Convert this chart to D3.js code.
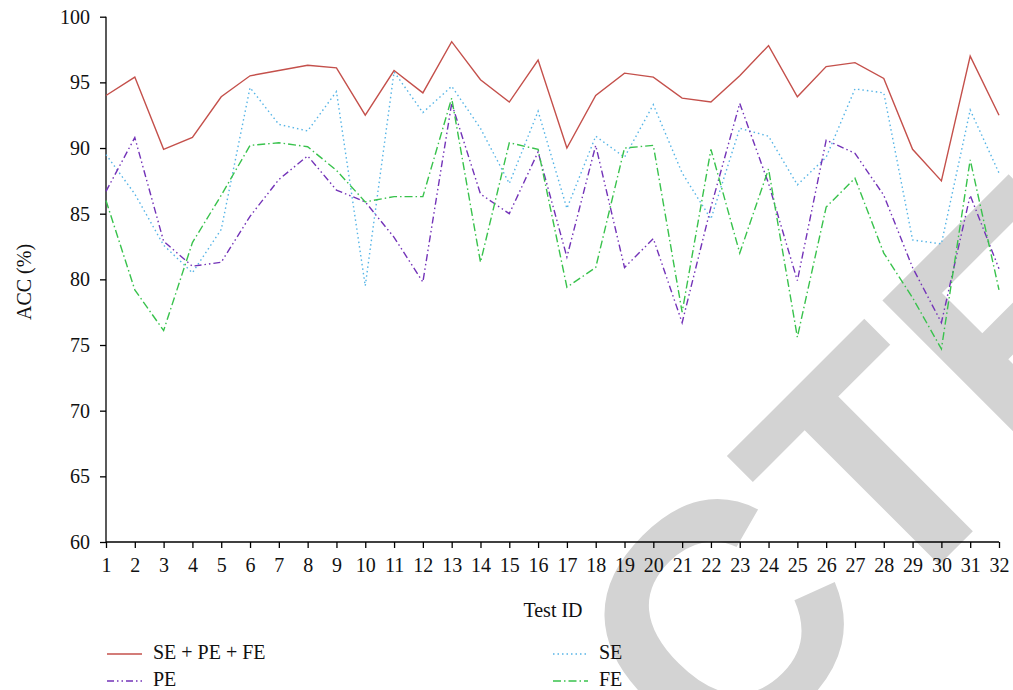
<!DOCTYPE html>
<html>
<head>
<meta charset="utf-8">
<script src="https://cdn.jsdelivr.net/npm/d3@7"></script>
<style>
  html, body { margin: 0; padding: 0; background: #fff; }
  svg { display: block; }
</style>
</head>
<body>
<svg id="chart" width="1013" height="690"></svg>
<script>
const testIds = d3.range(1, 33);
const yTicks = [60, 65, 70, 75, 80, 85, 90, 95, 100];
const seriesNames = ["SE + PE + FE", "SE", "PE", "FE"];
const accAll = [94.0, 95.4, 89.9, 90.8, 93.9, 95.5, 95.9, 96.3, 96.1, 92.5, 95.9, 94.2, 98.1, 95.2, 93.5, 96.7, 90.0, 94.0, 95.7, 95.4, 93.8, 93.5, 95.5, 97.8, 93.9, 96.2, 96.5, 95.3, 89.9, 87.5, 97.0, 92.5];
const accSE = [89.5, 86.5, 82.6, 80.5, 83.8, 94.6, 91.8, 91.3, 94.3, 79.5, 95.8, 92.7, 94.7, 91.5, 87.3, 92.8, 85.4, 90.9, 89.3, 93.3, 88.1, 84.6, 91.5, 90.9, 87.2, 89.3, 94.5, 94.2, 83.0, 82.7, 92.9, 88.1];
const accPE = [86.7, 90.8, 82.9, 81.0, 81.3, 84.8, 87.6, 89.4, 86.8, 85.9, 83.2, 79.8, 93.4, 86.5, 85.0, 89.7, 81.7, 90.2, 80.9, 83.1, 76.7, 85.5, 93.4, 87.3, 79.9, 90.6, 89.6, 86.4, 80.9, 76.7, 86.4, 80.8];
const accFE = [86.0, 79.2, 76.1, 82.8, 86.4, 90.2, 90.4, 90.1, 88.3, 85.9, 86.3, 86.3, 93.8, 81.3, 90.4, 89.9, 79.4, 80.9, 90.0, 90.2, 77.5, 89.9, 82.0, 88.4, 75.6, 85.5, 87.7, 82.0, 78.6, 74.7, 89.1, 79.2];

const styles = [
  { color: "#c4504b", dash: null },
  { color: "#55b4e6", dash: "1.5,3" },
  { color: "#7333b8", dash: "7,3,1.5,3,1.5,3" },
  { color: "#38c24c", dash: "8,3,1.5,3" }
];
const allSeries = [accAll, accSE, accPE, accFE];

const svg = d3.select("#chart");
const serif = "'Liberation Serif', 'Times New Roman', serif";

svg.append("rect").attr("width", 1013).attr("height", 690).attr("fill", "#fff");

// Watermark
svg.append("text")
  .attr("transform", "translate(632,872) rotate(-45)")
  .attr("text-anchor", "middle")
  .attr("font-family", "'Liberation Sans', Arial, sans-serif")
  .attr("font-weight", "bold")
  .attr("font-size", 330)
  .attr("fill", "#d3d3d3")
  .text("RETRACTED");

const x = d3.scaleLinear().domain([1, 32]).range([106, 999]);
const y = d3.scaleLinear().domain([60, 100]).range([542, 16.7]);

// Axes
const gx = svg.append("g").attr("transform", "translate(0,542)")
  .call(d3.axisBottom(x).tickValues(testIds).tickFormat(d3.format("d")).tickSize(6).tickPadding(10));
const gy = svg.append("g").attr("transform", "translate(106,0)")
  .call(d3.axisLeft(y).tickValues(yTicks).tickSize(6).tickPadding(10));
[gx, gy].forEach(g => {
  g.select(".domain").attr("stroke", "#000").attr("stroke-width", 1.3);
  g.selectAll(".tick line").attr("stroke", "#000").attr("stroke-width", 1.3);
  g.selectAll(".tick text").attr("font-family", serif).attr("font-size", 20).attr("fill", "#111");
});
gx.select(".domain").attr("d", "M106,0H999");
gy.select(".domain").attr("d", "M0,542V16.7");

// Lines
const line = d3.line().x((d, i) => x(testIds[i])).y(d => y(d));
allSeries.forEach((s, k) => {
  svg.append("path").datum(s)
    .attr("d", line)
    .attr("fill", "none")
    .attr("stroke", styles[k].color)
    .attr("stroke-width", 1.4)
    .attr("stroke-dasharray", styles[k].dash);
});

// Axis titles
svg.append("text").attr("x", 553).attr("y", 617).attr("text-anchor", "middle")
  .attr("font-family", serif).attr("font-size", 20).attr("fill", "#111").text("Test ID");
svg.append("text").attr("transform", "translate(31,282) rotate(-90)").attr("text-anchor", "middle")
  .attr("font-family", serif).attr("font-size", 20).attr("fill", "#111").text("ACC (%)");

// Legend
const legendPos = [
  { x: 107, y: 654 }, { x: 553, y: 654 },
  { x: 107, y: 681 }, { x: 553, y: 681 }
];
seriesNames.forEach((name, k) => {
  const p = legendPos[k];
  svg.append("line").attr("x1", p.x).attr("x2", p.x + 35).attr("y1", p.y).attr("y2", p.y)
    .attr("stroke", styles[k].color).attr("stroke-width", 1.4).attr("stroke-dasharray", styles[k].dash);
  svg.append("text").attr("x", p.x + 46).attr("y", p.y + 5)
    .attr("font-family", serif).attr("font-size", 20).attr("fill", "#111").text(name);
});
</script>
</body>
</html>
